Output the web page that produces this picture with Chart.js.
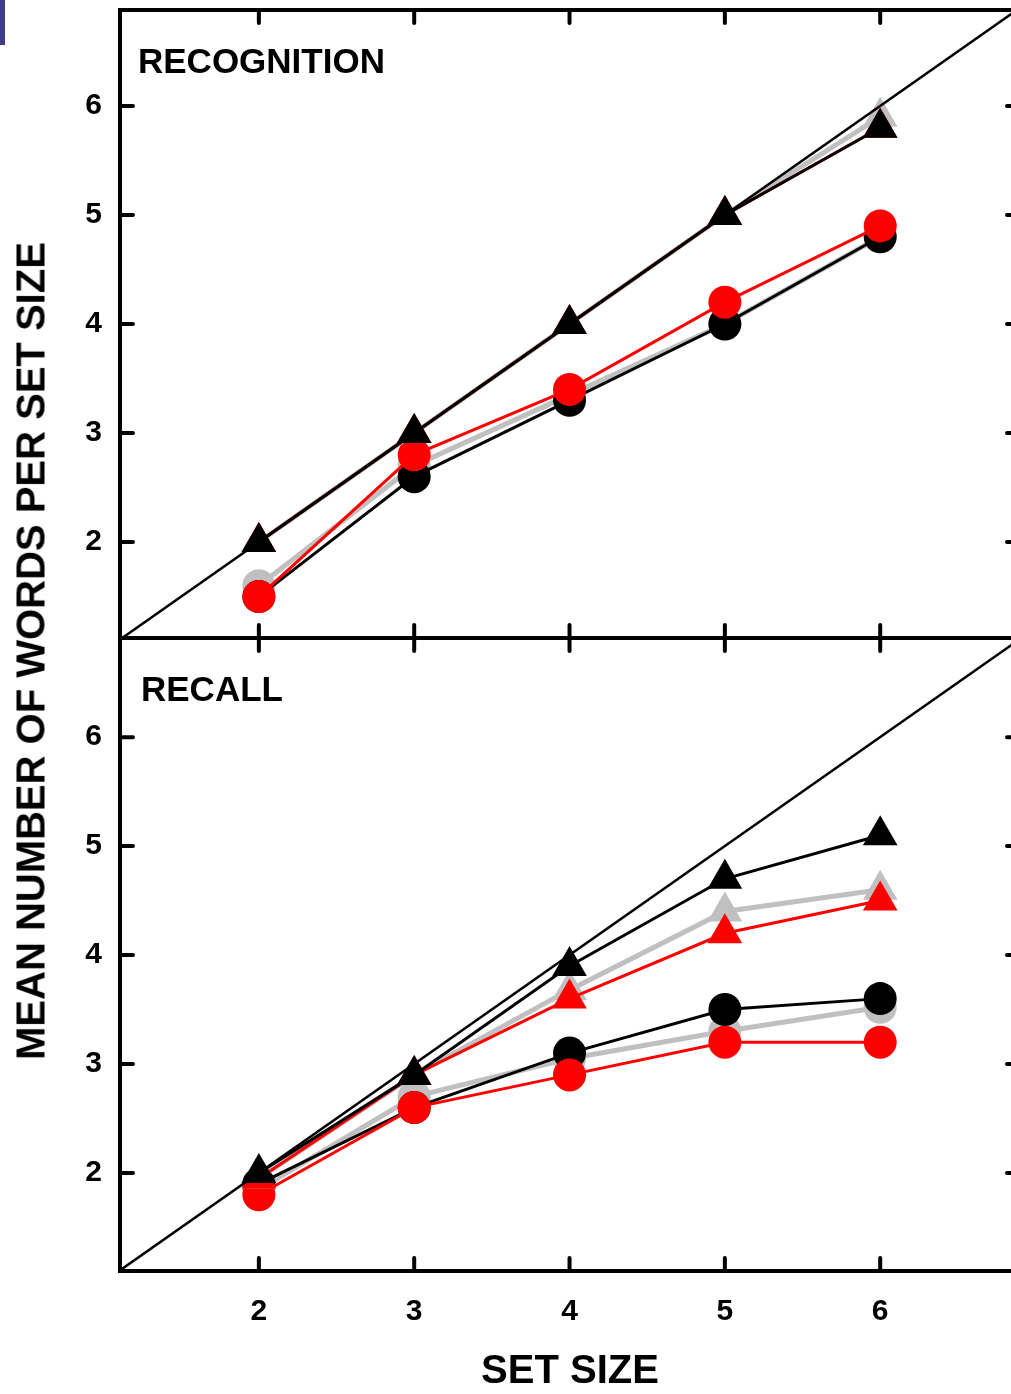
<!DOCTYPE html>
<html>
<head>
<meta charset="utf-8">
<script src="https://cdn.jsdelivr.net/npm/chart.js@4.4.1/dist/chart.umd.min.js"></script>
<style>
  html, body { margin: 0; padding: 0; background: #fff; overflow: hidden; width: 1011px; height: 1394px; }
  canvas { position: absolute; left: 0; }
  #recog { top: 0; }
  #recall { top: 620px; }
  #yTitle {
    position: absolute; left: 31px; top: 651px;
    transform: translate(-50%, -50%) rotate(-90deg);
    font: bold 40px "Liberation Sans", Arial, sans-serif; white-space: nowrap; color: #000;
  }
  #mark { position: absolute; left: 0; top: 0; width: 5px; height: 45px; background: #3d3d8c; }
</style>
</head>
<body>
<canvas id="recog" width="1040" height="660"></canvas>
<canvas id="recall" width="1040" height="774"></canvas>
<div id="mark"></div>
<div id="yTitle">MEAN NUMBER OF WORDS PER SET SIZE</div>
<script>
// set sizes (x) and axis ticks
const setSizes = [2, 3, 4, 5, 6];
const yTicks = [2, 3, 4, 5, 6];

// RECOGNITION panel
const recogTriBlack = [2.0, 3.0, 4.0, 5.0, 5.8];
const recogTriGrey = [2.0, 3.0, 4.0, 5.0, 5.9];
const recogTriRed = [2.0, 3.0, 4.0, 5.0, 5.8];
const recogCircBlack = [1.5, 2.6, 3.3, 4.0, 4.8];
const recogCircGrey = [1.6, 2.7, 3.35, 4.0, 4.8];
const recogCircRed = [1.5, 2.8, 3.4, 4.2, 4.9];

// RECALL panel
const recallTriBlack = [2.0, 2.9, 3.9, 4.7, 5.1];
const recallTriGrey = [1.95, 2.9, 3.68, 4.4, 4.6];
const recallTriRed = [1.95, 2.9, 3.6, 4.2, 4.5];
const recallCircBlack = [1.9, 2.6, 3.1, 3.5, 3.6];
const recallCircGrey = [1.85, 2.7, 3.05, 3.3, 3.52];
const recallCircRed = [1.8, 2.6, 2.9, 3.2, 3.2];

const FONT = '"Liberation Sans", Arial, sans-serif';
const BLACK = '#000000', GREY = '#c0c0c0', RED = '#ff0000';
const xRange = [1.106, 6.9];

// frame, inward ticks and panel label
const panelFrame = {
    id: 'panelFrame',
    afterDatasetsDraw(chart, args, opts) {
        const { ctx, chartArea: a, scales } = chart;
        const tl = 13;
        ctx.save();
        ctx.strokeStyle = '#000';
        ctx.lineWidth = 4;
        ctx.lineCap = 'round';
        ctx.strokeRect(a.left, a.top, a.right - a.left, a.bottom - a.top);
        ctx.beginPath();
        setSizes.forEach(v => {
            const x = scales.x.getPixelForValue(v);
            ctx.moveTo(x, a.top); ctx.lineTo(x, a.top + tl);
            ctx.moveTo(x, a.bottom); ctx.lineTo(x, a.bottom - tl);
        });
        yTicks.forEach(v => {
            const y = scales.y.getPixelForValue(v);
            ctx.moveTo(a.left, y); ctx.lineTo(a.left + tl, y);
            ctx.moveTo(a.right, y); ctx.lineTo(a.right - tl, y);
        });
        ctx.stroke();
        ctx.fillStyle = '#000';
        ctx.font = 'bold 35px ' + FONT;
        ctx.textBaseline = 'alphabetic';
        ctx.textAlign = 'left';
        ctx.fillText(opts.label, a.left + opts.dx, a.top + 63);
        ctx.restore();
    }
};

function series(values, color, shape, width, order) {
    return {
        data: setSizes.map((s, i) => ({ x: s, y: values[i] })),
        borderColor: color,
        backgroundColor: color,
        pointBackgroundColor: color,
        borderWidth: width,
        pointStyle: shape,
        pointRadius: shape === 'triangle' ? 20 : 16.5,
        pointBorderWidth: 0,
        pointHoverRadius: 0,
        tension: 0,
        order: order
    };
}

function diagonal() {
    return {
        data: xRange.map(v => ({ x: v, y: v })),
        borderColor: BLACK,
        borderWidth: 2.5,
        pointRadius: 0,
        order: 1
    };
}

function makePanel(id, label, dx, sets, yRange, showX) {
    const ctx = document.getElementById(id).getContext('2d');
    return new Chart(ctx, {
        type: 'line',
        data: {
            datasets: [
                series(sets[0], BLACK, 'triangle', 3, 0),
                diagonal(),
                series(sets[2], RED, 'triangle', 3, 2),
                series(sets[1], GREY, 'triangle', 5, 3),
                series(sets[5], RED, 'circle', 3, 4),
                series(sets[3], BLACK, 'circle', 3, 5),
                series(sets[4], GREY, 'circle', 5, 6)
            ]
        },
        options: {
            responsive: false,
            devicePixelRatio: 1,
            animation: false,
            layout: {
                autoPadding: false,
                padding: showX ? { top: 18, right: 20, bottom: 0, left: 0 } : { top: 10, right: 20, bottom: 22, left: 0 }
            },
            plugins: { legend: { display: false }, tooltip: { enabled: false }, panelFrame: { label: label, dx: dx } },
            scales: {
                x: {
                    type: 'linear',
                    min: xRange[0],
                    max: xRange[1],
                    display: showX,
                    grid: { display: false, drawTicks: false },
                    border: { display: false },
                    afterBuildTicks: s => { s.ticks = setSizes.map(v => ({ value: v })); },
                    afterFit: s => {
                        s.height = showX ? 123 : 0;
                        s.paddingLeft = 0; s.paddingRight = 0; s.paddingTop = 0; s.paddingBottom = 0;
                    },
                    ticks: { color: '#000', padding: 23, maxRotation: 0, font: { family: FONT, size: 30, weight: 'bold' } },
                    title: { display: true, text: 'SET SIZE', color: '#000', padding: 0, font: { family: FONT, size: 40, weight: 'bold', lineHeight: 1.1 } }
                },
                y: {
                    type: 'linear',
                    min: yRange[0],
                    max: yRange[1],
                    grid: { display: false, drawTicks: false },
                    border: { display: false },
                    afterBuildTicks: s => { s.ticks = yTicks.map(v => ({ value: v })); },
                    afterFit: s => { s.width = 120; s.paddingTop = 0; s.paddingBottom = 0; },
                    ticks: { color: '#000', padding: 18, font: { family: FONT, size: 30, weight: 'bold' } }
                }
            }
        },
        plugins: [panelFrame]
    });
}

makePanel('recog', 'RECOGNITION', 18,
    [recogTriBlack, recogTriGrey, recogTriRed, recogCircBlack, recogCircGrey, recogCircRed],
    [1.12, 6.88], false);
makePanel('recall', 'RECALL', 21,
    [recallTriBlack, recallTriGrey, recallTriRed, recallCircBlack, recallCircGrey, recallCircRed],
    [1.10, 6.91], true);
</script>
</body>
</html>
